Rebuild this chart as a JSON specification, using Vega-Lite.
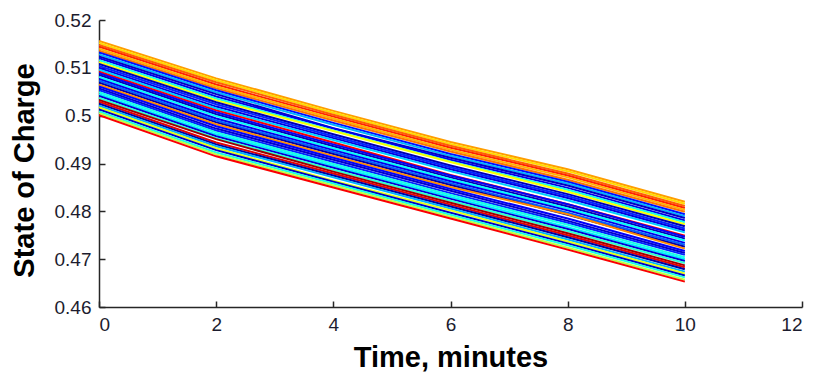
{
  "$schema": "https://vega.github.io/schema/vega-lite/v6.json",
  "autosize": "none",
  "width": 703,
  "height": 287,
  "padding": {"left": 99, "top": 20, "right": 13, "bottom": 65},
  "background": "white",
  "config": {
    "view": {"stroke": null},
    "font": "Liberation Sans",
    "axis": {
      "grid": false,
      "domainColor": "#262626",
      "domainWidth": 1.5,
      "tickColor": "#262626",
      "tickWidth": 1.5,
      "tickSize": -6,
      "labelFont": "Liberation Sans",
      "labelFontSize": 19,
      "labelColor": "#1c1c2e",
      "titleFont": "Liberation Sans",
      "titleFontSize": 29,
      "titleFontWeight": "bold",
      "titleColor": "#000000"
    }
  },
  "data": {"values": [
{"s":0,"c":0.72,"t":0,"v":0.5156},{"s":0,"c":0.72,"t":2,"v":0.5078},{"s":0,"c":0.72,"t":4,"v":0.5010},{"s":0,"c":0.72,"t":6,"v":0.4945},{"s":0,"c":0.72,"t":8,"v":0.4888},{"s":0,"c":0.72,"t":10,"v":0.4820},
{"s":1,"c":0.66,"t":0,"v":0.5152},{"s":1,"c":0.66,"t":2,"v":0.5074},{"s":1,"c":0.66,"t":4,"v":0.5006},{"s":1,"c":0.66,"t":6,"v":0.4941},{"s":1,"c":0.66,"t":8,"v":0.4884},{"s":1,"c":0.66,"t":10,"v":0.4816},
{"s":2,"c":0.78,"t":0,"v":0.5148},{"s":2,"c":0.78,"t":2,"v":0.5070},{"s":2,"c":0.78,"t":4,"v":0.5002},{"s":2,"c":0.78,"t":6,"v":0.4937},{"s":2,"c":0.78,"t":8,"v":0.4879},{"s":2,"c":0.78,"t":10,"v":0.4811},
{"s":3,"c":0.84,"t":0,"v":0.5144},{"s":3,"c":0.84,"t":2,"v":0.5065},{"s":3,"c":0.84,"t":4,"v":0.4998},{"s":3,"c":0.84,"t":6,"v":0.4933},{"s":3,"c":0.84,"t":8,"v":0.4875},{"s":3,"c":0.84,"t":10,"v":0.4807},
{"s":4,"c":0.70,"t":0,"v":0.5140},{"s":4,"c":0.70,"t":2,"v":0.5061},{"s":4,"c":0.70,"t":4,"v":0.4994},{"s":4,"c":0.70,"t":6,"v":0.4929},{"s":4,"c":0.70,"t":8,"v":0.4871},{"s":4,"c":0.70,"t":10,"v":0.4803},
{"s":5,"c":0.76,"t":0,"v":0.5136},{"s":5,"c":0.76,"t":2,"v":0.5057},{"s":5,"c":0.76,"t":4,"v":0.4990},{"s":5,"c":0.76,"t":6,"v":0.4925},{"s":5,"c":0.76,"t":8,"v":0.4866},{"s":5,"c":0.76,"t":10,"v":0.4799},
{"s":6,"c":0.14,"t":0,"v":0.5132},{"s":6,"c":0.14,"t":2,"v":0.5053},{"s":6,"c":0.14,"t":4,"v":0.4985},{"s":6,"c":0.14,"t":6,"v":0.4920},{"s":6,"c":0.14,"t":8,"v":0.4862},{"s":6,"c":0.14,"t":10,"v":0.4794},
{"s":7,"c":0.30,"t":0,"v":0.5128},{"s":7,"c":0.30,"t":2,"v":0.5049},{"s":7,"c":0.30,"t":4,"v":0.4981},{"s":7,"c":0.30,"t":6,"v":0.4916},{"s":7,"c":0.30,"t":8,"v":0.4858},{"s":7,"c":0.30,"t":10,"v":0.4790},
{"s":8,"c":0.06,"t":0,"v":0.5124},{"s":8,"c":0.06,"t":2,"v":0.5045},{"s":8,"c":0.06,"t":4,"v":0.4974},{"s":8,"c":0.06,"t":6,"v":0.4912},{"s":8,"c":0.06,"t":8,"v":0.4854},{"s":8,"c":0.06,"t":10,"v":0.4786},
{"s":9,"c":0.10,"t":0,"v":0.5120},{"s":9,"c":0.10,"t":2,"v":0.5040},{"s":9,"c":0.10,"t":4,"v":0.4973},{"s":9,"c":0.10,"t":6,"v":0.4908},{"s":9,"c":0.10,"t":8,"v":0.4849},{"s":9,"c":0.10,"t":10,"v":0.4781},
{"s":10,"c":0.40,"t":0,"v":0.5116},{"s":10,"c":0.40,"t":2,"v":0.5036},{"s":10,"c":0.40,"t":4,"v":0.4969},{"s":10,"c":0.40,"t":6,"v":0.4904},{"s":10,"c":0.40,"t":8,"v":0.4845},{"s":10,"c":0.40,"t":10,"v":0.4777},
{"s":11,"c":0.62,"t":0,"v":0.5112},{"s":11,"c":0.62,"t":2,"v":0.5032},{"s":11,"c":0.62,"t":4,"v":0.4968},{"s":11,"c":0.62,"t":6,"v":0.4903},{"s":11,"c":0.62,"t":8,"v":0.4841},{"s":11,"c":0.62,"t":10,"v":0.4773},
{"s":12,"c":0.04,"t":0,"v":0.5108},{"s":12,"c":0.04,"t":2,"v":0.5028},{"s":12,"c":0.04,"t":4,"v":0.4961},{"s":12,"c":0.04,"t":6,"v":0.4896},{"s":12,"c":0.04,"t":8,"v":0.4836},{"s":12,"c":0.04,"t":10,"v":0.4769},
{"s":13,"c":0.16,"t":0,"v":0.5104},{"s":13,"c":0.16,"t":2,"v":0.5024},{"s":13,"c":0.16,"t":4,"v":0.4957},{"s":13,"c":0.16,"t":6,"v":0.4892},{"s":13,"c":0.16,"t":8,"v":0.4832},{"s":13,"c":0.16,"t":10,"v":0.4764},
{"s":14,"c":0.09,"t":0,"v":0.5100},{"s":14,"c":0.09,"t":2,"v":0.5019},{"s":14,"c":0.09,"t":4,"v":0.4953},{"s":14,"c":0.09,"t":6,"v":0.4888},{"s":14,"c":0.09,"t":8,"v":0.4828},{"s":14,"c":0.09,"t":10,"v":0.4760},
{"s":15,"c":0.33,"t":0,"v":0.5096},{"s":15,"c":0.33,"t":2,"v":0.5015},{"s":15,"c":0.33,"t":4,"v":0.4949},{"s":15,"c":0.33,"t":6,"v":0.4884},{"s":15,"c":0.33,"t":8,"v":0.4823},{"s":15,"c":0.33,"t":10,"v":0.4756},
{"s":16,"c":0.88,"t":0,"v":0.5092},{"s":16,"c":0.88,"t":2,"v":0.5011},{"s":16,"c":0.88,"t":4,"v":0.4944},{"s":16,"c":0.88,"t":6,"v":0.4876},{"s":16,"c":0.88,"t":8,"v":0.4815},{"s":16,"c":0.88,"t":10,"v":0.4749},
{"s":17,"c":0.12,"t":0,"v":0.5089},{"s":17,"c":0.12,"t":2,"v":0.5007},{"s":17,"c":0.12,"t":4,"v":0.4940},{"s":17,"c":0.12,"t":6,"v":0.4875},{"s":17,"c":0.12,"t":8,"v":0.4815},{"s":17,"c":0.12,"t":10,"v":0.4747},
{"s":18,"c":0.05,"t":0,"v":0.5085},{"s":18,"c":0.05,"t":2,"v":0.5003},{"s":18,"c":0.05,"t":4,"v":0.4936},{"s":18,"c":0.05,"t":6,"v":0.4871},{"s":18,"c":0.05,"t":8,"v":0.4810},{"s":18,"c":0.05,"t":10,"v":0.4743},
{"s":19,"c":0.38,"t":0,"v":0.5081},{"s":19,"c":0.38,"t":2,"v":0.4999},{"s":19,"c":0.38,"t":4,"v":0.4932},{"s":19,"c":0.38,"t":6,"v":0.4867},{"s":19,"c":0.38,"t":8,"v":0.4806},{"s":19,"c":0.38,"t":10,"v":0.4739},
{"s":20,"c":0.10,"t":0,"v":0.5077},{"s":20,"c":0.10,"t":2,"v":0.4994},{"s":20,"c":0.10,"t":4,"v":0.4928},{"s":20,"c":0.10,"t":6,"v":0.4863},{"s":20,"c":0.10,"t":8,"v":0.4802},{"s":20,"c":0.10,"t":10,"v":0.4734},
{"s":21,"c":0.22,"t":0,"v":0.5073},{"s":21,"c":0.22,"t":2,"v":0.4990},{"s":21,"c":0.22,"t":4,"v":0.4924},{"s":21,"c":0.22,"t":6,"v":0.4859},{"s":21,"c":0.22,"t":8,"v":0.4797},{"s":21,"c":0.22,"t":10,"v":0.4730},
{"s":22,"c":0.03,"t":0,"v":0.5069},{"s":22,"c":0.03,"t":2,"v":0.4986},{"s":22,"c":0.03,"t":4,"v":0.4920},{"s":22,"c":0.03,"t":6,"v":0.4855},{"s":22,"c":0.03,"t":8,"v":0.4793},{"s":22,"c":0.03,"t":10,"v":0.4726},
{"s":23,"c":0.74,"t":0,"v":0.5065},{"s":23,"c":0.74,"t":2,"v":0.4982},{"s":23,"c":0.74,"t":4,"v":0.4916},{"s":23,"c":0.74,"t":6,"v":0.4851},{"s":23,"c":0.74,"t":8,"v":0.4794},{"s":23,"c":0.74,"t":10,"v":0.4722},
{"s":24,"c":0.12,"t":0,"v":0.5061},{"s":24,"c":0.12,"t":2,"v":0.4978},{"s":24,"c":0.12,"t":4,"v":0.4912},{"s":24,"c":0.12,"t":6,"v":0.4847},{"s":24,"c":0.12,"t":8,"v":0.4785},{"s":24,"c":0.12,"t":10,"v":0.4717},
{"s":25,"c":0.07,"t":0,"v":0.5057},{"s":25,"c":0.07,"t":2,"v":0.4973},{"s":25,"c":0.07,"t":4,"v":0.4908},{"s":25,"c":0.07,"t":6,"v":0.4843},{"s":25,"c":0.07,"t":8,"v":0.4780},{"s":25,"c":0.07,"t":10,"v":0.4713},
{"s":26,"c":0.16,"t":0,"v":0.5053},{"s":26,"c":0.16,"t":2,"v":0.4969},{"s":26,"c":0.16,"t":4,"v":0.4903},{"s":26,"c":0.16,"t":6,"v":0.4838},{"s":26,"c":0.16,"t":8,"v":0.4776},{"s":26,"c":0.16,"t":10,"v":0.4709},
{"s":27,"c":0.40,"t":0,"v":0.5049},{"s":27,"c":0.40,"t":2,"v":0.4965},{"s":27,"c":0.40,"t":4,"v":0.4899},{"s":27,"c":0.40,"t":6,"v":0.4834},{"s":27,"c":0.40,"t":8,"v":0.4772},{"s":27,"c":0.40,"t":10,"v":0.4704},
{"s":28,"c":0.36,"t":0,"v":0.5045},{"s":28,"c":0.36,"t":2,"v":0.4961},{"s":28,"c":0.36,"t":4,"v":0.4895},{"s":28,"c":0.36,"t":6,"v":0.4830},{"s":28,"c":0.36,"t":8,"v":0.4767},{"s":28,"c":0.36,"t":10,"v":0.4700},
{"s":29,"c":0.08,"t":0,"v":0.5041},{"s":29,"c":0.08,"t":2,"v":0.4957},{"s":29,"c":0.08,"t":4,"v":0.4891},{"s":29,"c":0.08,"t":6,"v":0.4826},{"s":29,"c":0.08,"t":8,"v":0.4763},{"s":29,"c":0.08,"t":10,"v":0.4696},
{"s":30,"c":0.42,"t":0,"v":0.5037},{"s":30,"c":0.42,"t":2,"v":0.4953},{"s":30,"c":0.42,"t":4,"v":0.4887},{"s":30,"c":0.42,"t":6,"v":0.4822},{"s":30,"c":0.42,"t":8,"v":0.4759},{"s":30,"c":0.42,"t":10,"v":0.4692},
{"s":31,"c":0.97,"t":0,"v":0.5033},{"s":31,"c":0.97,"t":2,"v":0.4951},{"s":31,"c":0.97,"t":4,"v":0.4883},{"s":31,"c":0.97,"t":6,"v":0.4818},{"s":31,"c":0.97,"t":8,"v":0.4754},{"s":31,"c":0.97,"t":10,"v":0.4687},
{"s":32,"c":0.90,"t":0,"v":0.5029},{"s":32,"c":0.90,"t":2,"v":0.4944},{"s":32,"c":0.90,"t":4,"v":0.4879},{"s":32,"c":0.90,"t":6,"v":0.4814},{"s":32,"c":0.90,"t":8,"v":0.4750},{"s":32,"c":0.90,"t":10,"v":0.4683},
{"s":33,"c":0.02,"t":0,"v":0.5025},{"s":33,"c":0.02,"t":2,"v":0.4940},{"s":33,"c":0.02,"t":4,"v":0.4875},{"s":33,"c":0.02,"t":6,"v":0.4810},{"s":33,"c":0.02,"t":8,"v":0.4746},{"s":33,"c":0.02,"t":10,"v":0.4679},
{"s":34,"c":0.30,"t":0,"v":0.5021},{"s":34,"c":0.30,"t":2,"v":0.4936},{"s":34,"c":0.30,"t":4,"v":0.4871},{"s":34,"c":0.30,"t":6,"v":0.4806},{"s":34,"c":0.30,"t":8,"v":0.4741},{"s":34,"c":0.30,"t":10,"v":0.4674},
{"s":35,"c":0.60,"t":0,"v":0.5017},{"s":35,"c":0.60,"t":2,"v":0.4932},{"s":35,"c":0.60,"t":4,"v":0.4864},{"s":35,"c":0.60,"t":6,"v":0.4802},{"s":35,"c":0.60,"t":8,"v":0.4737},{"s":35,"c":0.60,"t":10,"v":0.4670},
{"s":36,"c":0.06,"t":0,"v":0.5013},{"s":36,"c":0.06,"t":2,"v":0.4928},{"s":36,"c":0.06,"t":4,"v":0.4862},{"s":36,"c":0.06,"t":6,"v":0.4797},{"s":36,"c":0.06,"t":8,"v":0.4733},{"s":36,"c":0.06,"t":10,"v":0.4666},
{"s":37,"c":0.40,"t":0,"v":0.5009},{"s":37,"c":0.40,"t":2,"v":0.4923},{"s":37,"c":0.40,"t":4,"v":0.4858},{"s":37,"c":0.40,"t":6,"v":0.4793},{"s":37,"c":0.40,"t":8,"v":0.4729},{"s":37,"c":0.40,"t":10,"v":0.4662},
{"s":38,"c":0.56,"t":0,"v":0.5005},{"s":38,"c":0.56,"t":2,"v":0.4919},{"s":38,"c":0.56,"t":4,"v":0.4854},{"s":38,"c":0.56,"t":6,"v":0.4789},{"s":38,"c":0.56,"t":8,"v":0.4724},{"s":38,"c":0.56,"t":10,"v":0.4657},
{"s":39,"c":0.88,"t":0,"v":0.5001},{"s":39,"c":0.88,"t":2,"v":0.4915},{"s":39,"c":0.88,"t":4,"v":0.4850},{"s":39,"c":0.88,"t":6,"v":0.4785},{"s":39,"c":0.88,"t":8,"v":0.4720},{"s":39,"c":0.88,"t":10,"v":0.4653}
  ]},
  "mark": {"type": "line", "strokeWidth": 2, "clip": true},
  "encoding": {
    "x": {
      "field": "t", "type": "quantitative",
      "scale": {"domain": [0, 12], "nice": false, "zero": false},
      "axis": {"title": "Time, minutes", "values": [0, 2, 4, 6, 8, 10, 12], "format": "d", "labelPadding": 14, "titlePadding": 9}
    },
    "y": {
      "field": "v", "type": "quantitative",
      "scale": {"domain": [0.46, 0.52], "nice": false, "zero": false},
      "axis": {"title": "State of Charge", "values": [0.46, 0.47, 0.48, 0.49, 0.5, 0.51, 0.52], "format": "~g", "labelPadding": 14, "titlePadding": 15, "titleY": 150}
    },
    "detail": {"field": "s", "type": "nominal"},
    "order": {"field": "t", "type": "quantitative"},
    "color": {
      "field": "c", "type": "quantitative",
      "scale": {"domain": [0, 0.125, 0.375, 0.625, 0.875, 1], "range": ["#00008f", "#0000ff", "#00ffff", "#ffff00", "#ff0000", "#800000"], "interpolate": "rgb"},
      "legend": null
    }
  }
}
